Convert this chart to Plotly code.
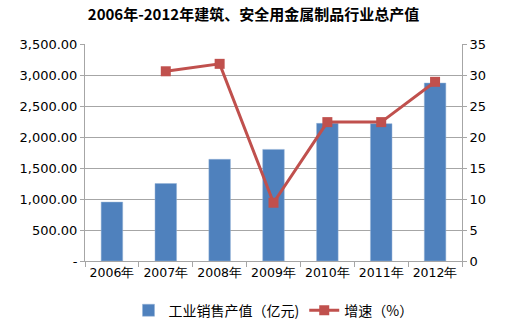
import plotly.graph_objects as go

# 建筑、安全用金属制品行业 2006-2012 年数据
years = ["2006年", "2007年", "2008年", "2009年", "2010年", "2011年", "2012年"]
sales_value = [950, 1250, 1640, 1800, 2220, 2215, 2870]        # 工业销售产值（亿元）
growth_rate = [None, 30.6, 31.8, 9.4, 22.4, 22.4, 28.9]        # 增速（%）

left_ticks = [0, 500, 1000, 1500, 2000, 2500, 3000, 3500]
left_labels = ["-"] + [f"{v:,.2f}" for v in left_ticks[1:]]
right_ticks = [0, 5, 10, 15, 20, 25, 30, 35]

BLUE = "#4F81BD"
RED = "#C0504D"
GRID = "#A6A6A6"
FONT = "DejaVu Sans"

fig = go.Figure()
fig.add_trace(go.Bar(
    x=years, y=sales_value, name="工业销售产值（亿元)",
    marker=dict(color=BLUE, line=dict(color="#95B3D7", width=0.5)),
    width=0.4, yaxis="y",
))
fig.add_trace(go.Scatter(
    x=years, y=growth_rate, name="增速（%）", mode="lines+markers",
    line=dict(color=RED, width=3),
    marker=dict(symbol="square", size=10, color=RED),
    yaxis="y2", connectgaps=False,
))

fig.update_layout(
    width=507, height=323,
    margin=dict(l=85, r=45, t=44, b=62, autoexpand=False),
    paper_bgcolor="white", plot_bgcolor="white",
    showlegend=True,
    title=dict(
        text="<b>2006年-2012年建筑、安全用金属制品行业总产值</b>",
        x=0.5, xanchor="center", y=1 - 15 / 323, yanchor="middle",
        font=dict(family="Noto Sans CJK SC", size=15, color="#000000"),
    ),
    font=dict(family=FONT, size=13, color="#000000"),
    bargap=0.6,
    xaxis=dict(
        type="category", showline=True, linecolor=GRID, linewidth=1,
        ticks="outside", tickson="boundaries", ticklen=5, tickcolor=GRID,
        showgrid=False, tickangle=0, automargin=False,
        tickfont=dict(family=FONT, size=12.5),
    ),
    yaxis=dict(
        range=[0, 3500], tickvals=left_ticks, ticktext=left_labels,
        showgrid=True, gridcolor=GRID, gridwidth=1,
        showline=True, linecolor=GRID, linewidth=1,
        ticks="outside", ticklen=4, tickcolor=GRID, automargin=False,
        zeroline=False, tickfont=dict(family=FONT, size=13),
    ),
    yaxis2=dict(
        range=[0, 35], tickvals=right_ticks, overlaying="y", side="right",
        showgrid=False, showline=True, linecolor=GRID, linewidth=1,
        ticks="outside", ticklen=4, tickcolor=GRID, automargin=False,
        zeroline=False, tickfont=dict(family=FONT, size=13),
    ),
    legend=dict(
        orientation="h", x=0.5, xanchor="center", y=-0.155, yanchor="top",
        font=dict(family="Noto Sans CJK SC", size=14),
        itemwidth=30, tracegroupgap=0,
    ),
)

fig.write_html("out.html")
